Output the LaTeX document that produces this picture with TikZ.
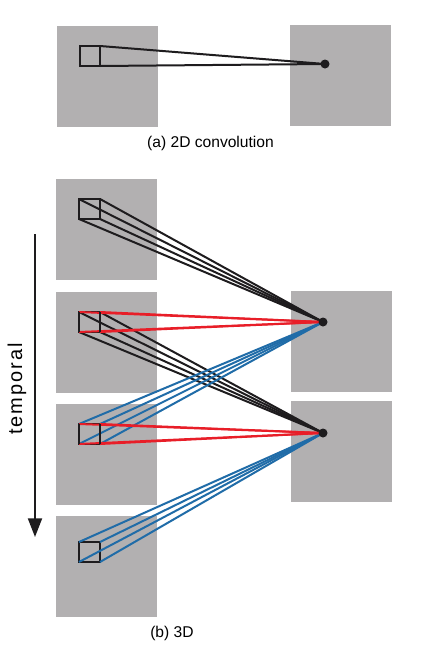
\documentclass[tikz,border=0pt]{standalone}
\usepackage{fontspec}
\setmainfont{Liberation Sans}
\newfontfamily\tempfont[LetterSpace=10]{Liberation Sans}
\usetikzlibrary{arrows.meta}
\definecolor{sqgray}{RGB}{178,176,177}
\definecolor{cred}{RGB}{232,30,40}
\definecolor{cblue}{RGB}{32,108,168}
\definecolor{cblack}{RGB}{30,28,30}
\begin{document}
\begin{tikzpicture}[x=0.75pt,y=-0.75pt,
  kbox/.style={draw=cblack,line width=1.6pt},
  kline/.style={draw=cblack,line width=1.5pt},
  rline/.style={draw=cred,line width=1.5pt},
  bline/.style={draw=cblue,line width=1.5pt},
  captext/.style={font=\fontsize{11.7pt}{14pt}\selectfont,text=black,inner sep=0pt}]
\useasboundingbox[fill=white] (0,0) rectangle (436,650);
% ---------- (a) ----------
\fill[sqgray] (57,26) rectangle (158,127);
\fill[sqgray] (290,25) rectangle (391,126);
\coordinate (a1) at (80,46);
\coordinate (a2) at (100,46);
\coordinate (a3) at (100,66);
\coordinate (a4) at (80,66);
\coordinate (ad) at (325,64);
\draw[kbox] (a1) rectangle (a3);
\draw[kline] (a2) -- (ad);
\draw[kline] (a3) -- (ad);
\fill[cblack] (ad) circle (4.5);
\node[captext] (capa) at (210.5,143) {(a) 2D convolution};
% ---------- (b) ----------
\fill[sqgray] (56,179) rectangle (157,280);
\fill[sqgray] (56,292) rectangle (157,393);
\fill[sqgray] (56,404) rectangle (157,505);
\fill[sqgray] (56,516) rectangle (157,617);
\fill[sqgray] (291,291) rectangle (392,392);
\fill[sqgray] (291,401) rectangle (392,502);
\coordinate (d1) at (323,322);
\coordinate (d2) at (323,433);
% boxes corners
\foreach \i/\yt in {1/199,2/312,3/424,4/542}{
  \coordinate (b\i tl) at (79,\yt);
  \coordinate (b\i tr) at (100,\yt);
  \coordinate (b\i bl) at (79,\yt+20);
  \coordinate (b\i br) at (100,\yt+20);
}
% box outlines
\foreach \i in {1,2,3,4}{ \draw[kbox] (b\i tl) rectangle (b\i br); }
% black lines
\foreach \c in {tl,tr,bl,br}{
  \draw[kline] (b1\c) -- (d1);
  \draw[kline] (b2\c) -- (d2);
}
% blue lines
\foreach \c in {tl,tr,bl,br}{
  \draw[bline] (b3\c) -- (d1);
  \draw[bline] (b4\c) -- (d2);
}
% red lines
\foreach \c in {tl,tr,bl,br}{
  \draw[rline] (b2\c) -- (d1);
  \draw[rline] (b3\c) -- (d2);
}
% vertical box edges on top
\foreach \i in {2,3}{
  \draw[kbox] (b\i tl) -- (b\i bl);
  \draw[kbox] (b\i tr) -- (b\i br);
}
\fill[cblack] (d1) circle (4.5);
\fill[cblack] (d2) circle (4.5);
% temporal arrow
\coordinate (ts) at (35,234);
\coordinate (te) at (35,537);
\draw[cblack,line width=1.4pt,-{Triangle[length=14pt,width=10.5pt]}] (ts) -- (te);
\node[rotate=90,inner sep=0pt,font=\tempfont\fontsize{15pt}{18pt}\selectfont] (temp) at (17,389) {temporal};
\node[captext,anchor=west] (capb) at (150,633) {(b) 3D};
\end{tikzpicture}
\end{document}
